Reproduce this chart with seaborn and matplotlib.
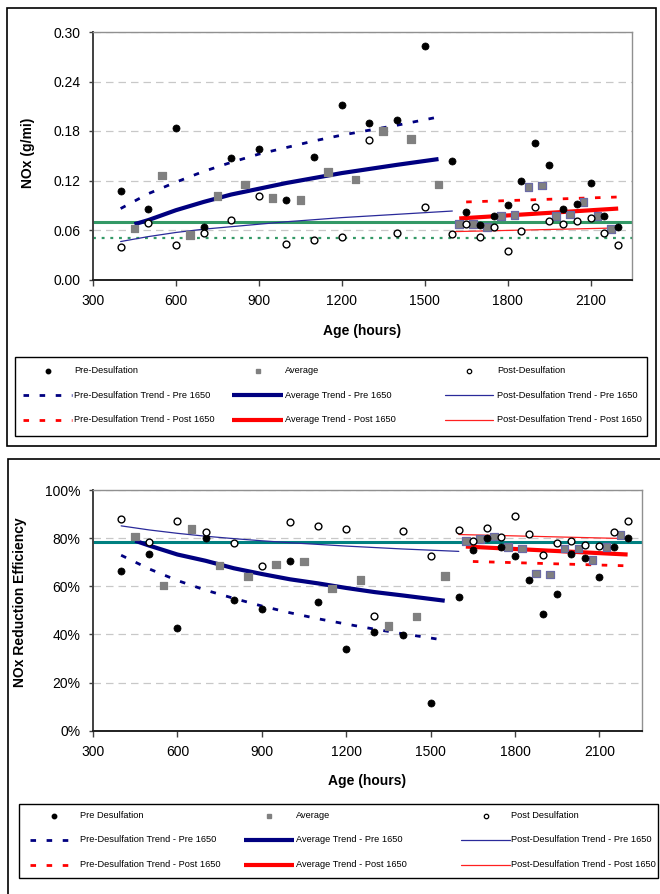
import numpy as np
import pandas as pd
import matplotlib
matplotlib.use("Agg")
import matplotlib.pyplot as plt
import seaborn as sns
from matplotlib.lines import Line2D
from matplotlib.patches import Rectangle
from matplotlib.ticker import FuncFormatter

# ---------------- data ----------------
pt_hours = [400, 500, 600, 700, 800, 900, 1000, 1100, 1200, 1300, 1400, 1500, 1600,
            1650, 1700, 1750, 1800, 1850, 1900, 1950, 2000, 2050, 2100, 2150, 2200]
avg_hours = [450, 550, 650, 750, 850, 950, 1050, 1150, 1250, 1350, 1450, 1550,
             1625, 1675, 1725, 1775, 1825, 1875, 1925, 1975, 2025, 2075, 2125, 2175]

# NOx (g/mi)
nox_pre = [0.107, 0.086, 0.184, 0.064, 0.147, 0.158, 0.096, 0.149, 0.212, 0.190, 0.193, 0.283, 0.144,
           0.082, 0.066, 0.077, 0.090, 0.120, 0.166, 0.139, 0.086, 0.091, 0.117, 0.077, 0.064]
nox_avg = [0.062, 0.126, 0.054, 0.101, 0.115, 0.099, 0.096, 0.130, 0.121, 0.180, 0.170, 0.115,
           0.067, 0.067, 0.064, 0.077, 0.078, 0.112, 0.114, 0.077, 0.079, 0.094, 0.077, 0.061]
nox_post = [0.039, 0.069, 0.042, 0.056, 0.072, 0.101, 0.043, 0.048, 0.051, 0.169, 0.056, 0.088, 0.055,
            0.067, 0.051, 0.064, 0.035, 0.059, 0.088, 0.071, 0.067, 0.071, 0.075, 0.056, 0.042]

# NOx reduction efficiency (%)
eff_pre = [66.4, 73.4, 42.5, 79.9, 54.4, 50.7, 70.3, 53.3, 33.8, 40.8, 39.7, 11.6, 55.6,
           75.0, 79.9, 76.4, 72.4, 62.6, 48.4, 56.7, 73.5, 71.8, 63.8, 76.3, 80.1]
eff_avg = [80.6, 60.3, 83.7, 68.7, 64.1, 69.1, 70.3, 59.1, 62.6, 43.6, 47.5, 64.2,
           78.9, 79.6, 80.6, 76.4, 75.7, 65.3, 64.9, 75.7, 75.7, 70.9, 76.4, 81.2]
eff_post = [88.0, 78.5, 87.1, 82.6, 77.8, 68.5, 86.5, 85.0, 83.7, 47.5, 82.8, 72.4, 83.5,
            78.9, 84.4, 80.6, 89.3, 81.7, 72.9, 77.8, 78.8, 77.3, 76.7, 82.7, 87.0]

# trend lines
tr_pre_hours_a = [400, 500, 600, 700, 800, 900, 1000, 1100, 1200, 1300, 1400, 1550]
tr_avg_hours_a = [450, 500, 600, 700, 800, 900, 1000, 1100, 1200, 1300, 1400, 1550]
tr_post_hours_a = [400, 500, 600, 700, 800, 900, 1000, 1200, 1400, 1600]
tr_pre_hours_b = [1650, 2200]
tr_avg_hours_b = [1625, 2200]
tr_post_hours_b = [1600, 2200]

nox_tr_pre_a = [0.086, 0.104, 0.118, 0.131, 0.142, 0.152, 0.160, 0.168, 0.175, 0.181, 0.187, 0.197]
nox_tr_avg_a = [0.067, 0.072, 0.084, 0.094, 0.103, 0.110, 0.117, 0.123, 0.129, 0.134, 0.139, 0.146]
nox_tr_post_a = [0.046, 0.052, 0.057, 0.061, 0.064, 0.067, 0.070, 0.075, 0.079, 0.083]
nox_tr_pre_b = [0.094, 0.100]
nox_tr_avg_b = [0.074, 0.086]
nox_tr_post_b = [0.058, 0.0625]

eff_tr_pre_a = [72.9, 67.2, 62.4, 58.4, 55.0, 51.8, 49.0, 46.5, 44.3, 42.2, 40.3, 37.6]
eff_tr_avg_a = [78.9, 76.9, 73.2, 70.6, 67.5, 65.1, 62.9, 61.2, 59.3, 57.6, 56.2, 54.0]
eff_tr_post_a = [85.1, 83.4, 82.0, 80.8, 79.8, 78.9, 78.1, 76.7, 75.5, 74.5]
eff_tr_pre_b = [70.3, 68.5]
eff_tr_avg_b = [76.5, 73.2]
eff_tr_post_b = [81.5, 79.8]

nox_ref_levels = [0.07, 0.05]
eff_ref_levels = [78.2]

nox_yticks = [0.00, 0.06, 0.12, 0.18, 0.24, 0.30]
eff_yticks = [0, 20, 40, 60, 80, 100]
xticks = [300, 600, 900, 1200, 1500, 1800, 2100]

legend_top = ["Pre-Desulfation", "Average", "Post-Desulfation",
              "Pre-Desulfation Trend - Pre 1650", "Average Trend - Pre 1650", "Post-Desulfation Trend - Pre 1650",
              "Pre-Desulfation Trend - Post 1650", "Average Trend - Post 1650", "Post-Desulfation Trend - Post 1650"]
legend_bot = ["Pre Desulfation", "Average", "Post Desulfation",
              "Pre-Desulfation Trend - Pre 1650", "Average Trend - Pre 1650", "Post-Desulfation Trend - Pre 1650",
              "Pre-Desulfation Trend - Post 1650", "Average Trend - Post 1650", "Post-Desulfation Trend - Post 1650"]

# ---------------- style ----------------
sns.set_theme(style="white")
plt.rcParams["font.family"] = ["Liberation Sans", "DejaVu Sans"]

W, H = 660, 894
fig = plt.figure(figsize=(6.6, 8.94), dpi=100)
fig.patch.set_facecolor("white")


def fx(x):
    return x / W


def fy(y):
    return 1 - y / H


NAVY = "#000080"
RED = "#ff0000"
DASH = (0, (2.0, 3.8))


def panel(ax, pre, avg, post, tr, ylim, yticks, fmt, refs, ref_styles, ylabel, ylabel_x, ylabel_y, xlabel_y):
    ax.set_facecolor("white")
    for lvl, st in zip(refs, ref_styles):
        ax.axhline(lvl, zorder=2, **st)
    (pa, avh, ava, poh, pova, pb, avhb, avb, pohb, povb) = tr
    sns.lineplot(x=pa[0], y=pa[1], ax=ax, color=NAVY, lw=2.0, linestyle=DASH, errorbar=None, zorder=2)
    sns.lineplot(x=avh, y=ava, ax=ax, color=NAVY, lw=3.0, errorbar=None, zorder=2,
                 solid_capstyle="butt")
    sns.lineplot(x=poh, y=pova, ax=ax, color="#2a2a9a", lw=0.9, errorbar=None, zorder=2)
    sns.lineplot(x=pb[0], y=pb[1], ax=ax, color=RED, lw=2.0, linestyle=DASH, errorbar=None, zorder=2)
    sns.lineplot(x=avhb, y=avb, ax=ax, color=RED, lw=3.0, errorbar=None, zorder=2,
                 solid_capstyle="butt")
    sns.lineplot(x=pohb, y=povb, ax=ax, color="#ff2020", lw=0.9, errorbar=None, zorder=2)
    sq_edges = ["#808080" if h < 1600 else "#6a6aa6" for h in avg_hours]
    sns.scatterplot(x=avg_hours, y=avg, ax=ax, marker="s", s=30, color="#808080",
                    edgecolor=sq_edges, linewidth=0.9, zorder=4)
    sns.scatterplot(x=pt_hours, y=pre, ax=ax, marker="o", s=26, color="black",
                    edgecolor="black", linewidth=0.5, zorder=5)
    sns.scatterplot(x=pt_hours, y=post, ax=ax, marker="o", s=24, facecolor="white",
                    edgecolor="black", linewidth=1.0, zorder=5)

    ax.set_xlim(300, 2250)
    ax.set_ylim(*ylim)
    ax.set_xticks(xticks)
    ax.set_yticks(yticks)
    ax.yaxis.set_major_formatter(FuncFormatter(fmt))
    ax.yaxis.grid(True, color="#c8c8c8", linestyle=(0, (6, 4)), lw=0.9)
    ax.xaxis.grid(False)
    ax.set_axisbelow(True)
    for side in ["top", "right"]:
        ax.spines[side].set_color("#909090")
        ax.spines[side].set_linewidth(1.0)
    ax.spines["left"].set_color("#404040")
    ax.spines["left"].set_linewidth(1.4)
    ax.spines["bottom"].set_color("#202020")
    ax.spines["bottom"].set_linewidth(1.4)
    ax.tick_params(axis="x", bottom=True, direction="out", length=4.5, width=1.0, color="#404040",
                   pad=6, labelsize=10, labelcolor="black")
    ax.tick_params(axis="y", left=True, direction="out", length=3, width=1.0, color="#404040",
                   pad=6, labelsize=10, labelcolor="black")
    ax.set_xlabel("Age (hours)", fontsize=10, fontweight="bold", color="black")
    ax.xaxis.set_label_coords(0.5, xlabel_y)
    ax.xaxis.label.set_va("center")
    ax.set_ylabel(ylabel, fontsize=10, fontweight="bold", color="black")
    ax.yaxis.set_label_coords(ylabel_x, ylabel_y)
    ax.yaxis.label.set_va("center")
    leg = ax.get_legend()
    if leg is not None:
        leg.remove()


ax1 = fig.add_axes([fx(93), fy(279.5), 539 / W, 247.5 / H])
ax2 = fig.add_axes([fx(93), fy(730.7), 548.7 / W, 240.7 / H])

green_styles = [dict(color="#339966", lw=2.2, linestyle="-"),
                dict(color="#339966", lw=1.6, linestyle=(0, (1.3, 2.6)))]
teal_styles = [dict(color="#008080", lw=2.2, linestyle="-")]

panel(ax1, nox_pre, nox_avg, nox_post,
      ((tr_pre_hours_a, nox_tr_pre_a), tr_avg_hours_a, nox_tr_avg_a, tr_post_hours_a, nox_tr_post_a,
       (tr_pre_hours_b, nox_tr_pre_b), tr_avg_hours_b, nox_tr_avg_b, tr_post_hours_b, nox_tr_post_b),
      (0, 0.30), nox_yticks, lambda v, p: f"{v:.2f}", nox_ref_levels, green_styles,
      "NOx (g/mi)", -0.12, 0.51, -0.208)

panel(ax2, eff_pre, eff_avg, eff_post,
      ((tr_pre_hours_a, eff_tr_pre_a), tr_avg_hours_a, eff_tr_avg_a, tr_post_hours_a, eff_tr_post_a,
       (tr_pre_hours_b, eff_tr_pre_b), tr_avg_hours_b, eff_tr_avg_b, tr_post_hours_b, eff_tr_post_b),
      (0, 100), eff_yticks, lambda v, p: f"{v:.0f}%", eff_ref_levels, teal_styles,
      "NOx Reduction Efficiency", -0.133, 0.535, -0.209)


# ---------------- frames & legends ----------------
def frame(x0, y0, x1, y1, lw=1.0, color="black"):
    fig.add_artist(Rectangle((fx(x0), fy(y1)), (x1 - x0) / W, (y1 - y0) / H,
                             transform=fig.transFigure, fill=False, edgecolor=color, lw=lw,
                             clip_on=False, zorder=0))


frame(7, 8, 656, 446, lw=1.2)
frame(8, 459, 664, 900, lw=1.2)
frame(15.5, 357, 647, 436, lw=1.0)
frame(19, 804, 658, 878, lw=1.0)


def legend(labels, rows_y, cols, text_x):
    styles = [
        dict(marker="o", color="black", ms=3.2, ls="none"),
        dict(marker="s", color="#808080", ms=3.2, ls="none"),
        dict(marker="o", markerfacecolor="white", markeredgecolor="black", ms=3.2, mew=0.9, ls="none"),
        dict(color=NAVY, lw=2.0, ls=DASH),
        dict(color=NAVY, lw=3.0, solid_capstyle="butt"),
        dict(color="#2a2a9a", lw=0.9),
        dict(color=RED, lw=2.0, ls=DASH),
        dict(color=RED, lw=3.0, solid_capstyle="butt"),
        dict(color="#ff2020", lw=0.9),
    ]
    for i, lab in enumerate(labels):
        r, c = divmod(i, 3)
        y = rows_y[r]
        x0, x1 = cols[c]
        if r == 0:
            xs, ys = [fx((x0 + x1) / 2)], [fy(y)]
        else:
            xs, ys = [fx(x0), fx(x1)], [fy(y), fy(y)]
        fig.add_artist(Line2D(xs, ys, transform=fig.transFigure, **styles[i]))
        fig.text(fx(text_x[c]), fy(y), lab, fontsize=6.7, va="center", ha="left", color="black")


legend(legend_top, [370.5, 395, 419.5], [(23, 72), (232, 283), (445, 493)], [74, 285, 497])
legend(legend_bot, [815.5, 840, 864.5], [(29.5, 78), (244, 294), (461, 510)], [80, 296, 511])

fig.savefig("out.png", dpi=100)
